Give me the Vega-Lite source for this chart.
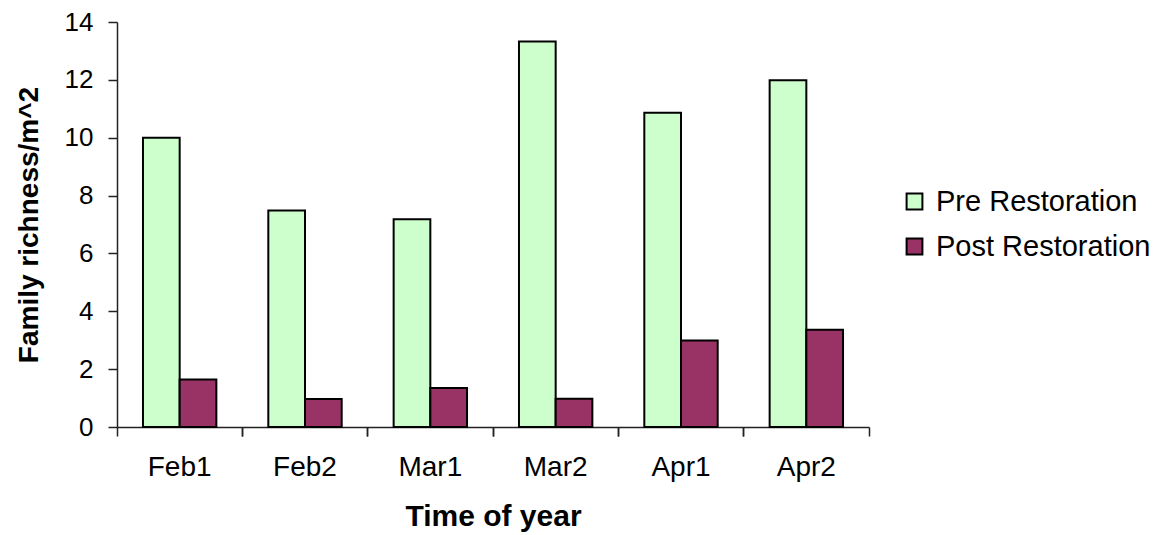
{
  "$schema": "https://vega.github.io/schema/vega-lite/v6.json",
  "width": 752,
  "height": 405,
  "autosize": "none",
  "padding": {"left": 117, "top": 22, "right": 297, "bottom": 108},
  "background": "white",
  "config": {
    "view": {"stroke": null},
    "font": "Liberation Sans",
    "axis": {
      "labelFont": "Liberation Sans",
      "titleFont": "Liberation Sans",
      "labelColor": "black",
      "titleColor": "black",
      "domainColor": "#222222",
      "tickColor": "#222222",
      "grid": false
    }
  },
  "data": {
    "values": [
      {"period": "Feb1", "phase": "Pre Restoration", "richness": 10.0},
      {"period": "Feb1", "phase": "Post Restoration", "richness": 1.64},
      {"period": "Feb2", "phase": "Pre Restoration", "richness": 7.48},
      {"period": "Feb2", "phase": "Post Restoration", "richness": 0.97},
      {"period": "Mar1", "phase": "Pre Restoration", "richness": 7.18},
      {"period": "Mar1", "phase": "Post Restoration", "richness": 1.35},
      {"period": "Mar2", "phase": "Pre Restoration", "richness": 13.33},
      {"period": "Mar2", "phase": "Post Restoration", "richness": 0.98},
      {"period": "Apr1", "phase": "Pre Restoration", "richness": 10.86},
      {"period": "Apr1", "phase": "Post Restoration", "richness": 2.99},
      {"period": "Apr2", "phase": "Pre Restoration", "richness": 11.99},
      {"period": "Apr2", "phase": "Post Restoration", "richness": 3.36}
    ]
  },
  "encoding": {
    "y": {
      "field": "richness",
      "type": "quantitative",
      "scale": {"domain": [0, 14], "nice": false},
      "axis": {
        "title": "Family richness/m^2",
        "titleFontSize": 28,
        "titleFontWeight": "bold",
        "titlePadding": 21,
        "values": [0, 2, 4, 6, 8, 10, 12, 14],
        "labelFontSize": 26,
        "labelPadding": 15,
        "tickSize": 9,
        "domainWidth": 1.5,
        "tickWidth": 1.5
      }
    },
    "xOffset": {
      "field": "phase",
      "type": "nominal",
      "sort": ["Pre Restoration", "Post Restoration"],
      "scale": {"paddingInner": 0, "paddingOuter": 0.708}
    },
    "color": {
      "field": "phase",
      "type": "nominal",
      "sort": ["Pre Restoration", "Post Restoration"],
      "scale": {
        "domain": ["Pre Restoration", "Post Restoration"],
        "range": ["#CCFFCC", "#993366"]
      },
      "legend": {
        "title": null,
        "orient": "none",
        "legendX": 783,
        "legendY": 165,
        "symbolType": "square",
        "symbolSize": 250,
        "symbolStrokeColor": "black",
        "symbolStrokeWidth": 2,
        "labelFontSize": 29,
        "labelColor": "black",
        "labelOffset": 7,
        "rowPadding": 15,
        "labelLimit": 400
      }
    }
  },
  "layer": [
    {
      "mark": {"type": "bar", "stroke": "black", "strokeWidth": 2},
      "encoding": {
        "x": {
          "field": "period",
          "type": "nominal",
          "sort": ["Feb1", "Feb2", "Mar1", "Mar2", "Apr1", "Apr2"],
          "scale": {"paddingInner": 0, "paddingOuter": 0},
          "axis": {
            "orient": "bottom",
            "title": "Time of year",
            "titleFontSize": 30,
            "titleFontWeight": "bold",
            "titlePadding": 20,
            "labelFontSize": 28,
            "labelAngle": 0,
            "labelPadding": 17,
            "bandPosition": 0,
            "tickSize": 9,
            "domainWidth": 1.5,
            "tickWidth": 1.5
          }
        }
      }
    },
    {
      "mark": {"type": "bar", "opacity": 0},
      "encoding": {
        "x": {
          "field": "period",
          "type": "nominal",
          "sort": ["Feb1", "Feb2", "Mar1", "Mar2", "Apr1", "Apr2"],
          "axis": {
            "orient": "bottom",
            "title": null,
            "labels": false,
            "domain": false,
            "bandPosition": 1,
            "tickSize": 9,
            "tickWidth": 1.5
          }
        }
      }
    }
  ],
  "resolve": {"axis": {"x": "independent"}}
}
